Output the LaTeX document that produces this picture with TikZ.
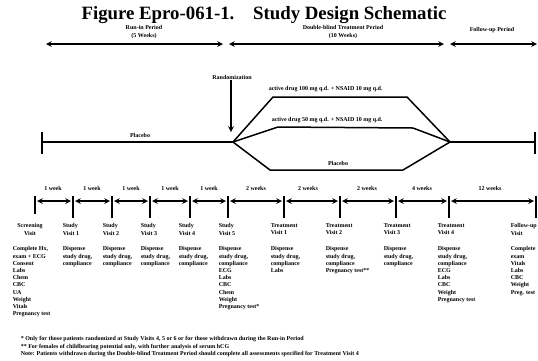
\documentclass[tikz,border=0pt]{standalone}
\usepackage{fontspec}
\setmainfont{Liberation Serif}

\tikzset{
  small/.style={font=\fontsize{6}{7.2}\selectfont\bfseries, inner sep=0pt},
  visit/.style={small, align=left, anchor=north west},
  period/.style={small, align=center},
}

\begin{document}
\begin{tikzpicture}[x=1pt, y=-1pt, line width=1.5pt]
  \useasboundingbox (0,0) rectangle (538,360);

    \node [inner sep=0pt, font=\fontsize{18.8}{20}\selectfont\bfseries] (title) at (264,15) {Figure Epro-061-1.\quad Study Design Schematic};

    %periods
    \node [period] (runin) at (144,32) {Run-in Period\\(5 Weeks)};
    \node [period] (dbt) at (343,32) {Double-blind Treatment Period\\(10 Weeks)};
    \node [period] (fup) at (492,30) {Follow-up Period};
    \coordinate (p0) at (46,44);
    \coordinate (p1) at (223,44);
    \coordinate (p2) at (229,44);
    \coordinate (p3) at (444,44);
    \coordinate (p4) at (450,44);
    \coordinate (p5) at (537,44);
    \draw [stealth-stealth] (p0) -- (p1);
    \draw [stealth-stealth] (p2) -- (p3);
    \draw [stealth-stealth] (p4) -- (p5);

    %randomization
    \node [small] (rand) at (232,77) {Randomization};
    \coordinate (randtip) at (231,132);
    \draw [-stealth] (rand.south -| randtip) -- (randtip);

    %placebo run-in
    \coordinate (start) at (42,142);
    \coordinate (branch) at (233,142);
    \coordinate (join) at (450,142);
    \coordinate (stop) at (535,142);
    \draw (start) -- (branch);
    \draw ([yshift=10pt]start) -- ([yshift=-12pt]start);
    \node [small] (pbo) at (140,135) {Placebo};

    %arms
    \coordinate (a1) at (273,97);
    \coordinate (a2) at (407,97);
    \coordinate (b1) at (278,127);
    \coordinate (b2) at (413,128);
    \coordinate (c1) at (270,170);
    \coordinate (c2) at (403,170);
    \draw (branch) -- (a1) -- (a2) -- (join);
    \draw (branch) -- (b1) -- (b2) -- (join);
    \draw (branch) -- (c1) -- (c2) -- (join);
    \draw (join) -- (stop);
    \draw ([yshift=10pt]stop) -- ([yshift=-12pt]stop);
    \node [small, anchor=west] (arm1) at (268,89) {active drug 100 mg q.d. + NSAID 10 mg q.d.};
    \node [small, anchor=west] (arm2) at (271,120) {active drug 50 mg q.d. + NSAID 10 mg q.d.};
    \node [small] (arm3) at (338,163) {Placebo};

    %timeline
    \coordinate (t1) at (35,201);
    \coordinate (t2) at (73,201);
    \coordinate (t3) at (112,201);
    \coordinate (t4) at (150,201);
    \coordinate (t5) at (190,201);
    \coordinate (t6) at (228,201);
    \coordinate (t7) at (284,201);
    \coordinate (t8) at (340,201);
    \coordinate (t9) at (396,201);
    \coordinate (t10) at (449,201);
    \coordinate (t11) at (536,201);
    \draw [stealth-stealth, shorten <=2pt, shorten >=2pt] (t1) -- (t2);
    \draw [stealth-stealth, shorten <=2pt, shorten >=2pt] (t2) -- (t3);
    \draw [stealth-stealth, shorten <=2pt, shorten >=2pt] (t3) -- (t4);
    \draw [stealth-stealth, shorten <=2pt, shorten >=2pt] (t4) -- (t5);
    \draw [stealth-stealth, shorten <=2pt, shorten >=2pt] (t5) -- (t6);
    \draw [stealth-stealth, shorten <=2pt, shorten >=2pt] (t6) -- (t7);
    \draw [stealth-stealth, shorten <=2pt, shorten >=2pt] (t7) -- (t8);
    \draw [stealth-stealth, shorten <=2pt, shorten >=2pt] (t8) -- (t9);
    \draw [stealth-stealth, shorten <=2pt, shorten >=2pt] (t9) -- (t10);
    \draw [stealth-stealth, shorten <=2pt, shorten >=2pt] (t10) -- (t11);
    \draw ([yshift=5pt]t1) -- ([yshift=-13pt]t1);
    \draw ([yshift=5pt]t2) -- ([yshift=-17pt]t2);
    \draw ([yshift=5pt]t3) -- ([yshift=-17pt]t3);
    \draw ([yshift=5pt]t4) -- ([yshift=-17pt]t4);
    \draw ([yshift=5pt]t5) -- ([yshift=-17pt]t5);
    \draw ([yshift=5pt]t6) -- ([yshift=-17pt]t6);
    \draw ([yshift=5pt]t7) -- ([yshift=-17pt]t7);
    \draw ([yshift=5pt]t8) -- ([yshift=-17pt]t8);
    \draw ([yshift=5pt]t9) -- ([yshift=-17pt]t9);
    \draw ([yshift=5pt]t10) -- ([yshift=-17pt]t10);
    \draw ([yshift=5pt]t11) -- ([yshift=-17pt]t11);
    \node [small] (w1) at (53,188) {1 week};
    \node [small] (w2) at (92,188) {1 week};
    \node [small] (w3) at (131,188) {1 week};
    \node [small] (w4) at (170,188) {1 week};
    \node [small] (w5) at (209,188) {1 week};
    \node [small] (w6) at (256,188) {2 weeks};
    \node [small] (w7) at (308,188) {2 weeks};
    \node [small] (w8) at (367,188) {2 weeks};
    \node [small] (w9) at (422,188) {4 weeks};
    \node [small] (w10) at (490,188) {12 weeks};

    %visits
    \node [small, align=center, anchor=north] (v1) at (30,223) {Screening\\Visit};
    \node [visit] (v2) at (62,223) {Study\\Visit 1};
    \node [visit] (v3) at (102,223) {Study\\Visit 2};
    \node [visit] (v4) at (140,223) {Study\\Visit 3};
    \node [visit] (v5) at (178,223) {Study\\Visit 4};
    \node [visit] (v6) at (218,223) {Study\\Visit 5};
    \node [visit] (v7) at (270,223) {Treatment\\Visit 1};
    \node [visit] (v8) at (325,223) {Treatment\\Visit 2};
    \node [visit] (v9) at (383,223) {Treatment\\Visit 3};
    \node [visit] (v10) at (437,223) {Treatment\\Visit 4};
    \node [visit] (v11) at (510,223) {Follow-up\\Visit};

    %visit procedures
    \node [visit] (d1) at (12,246) {Complete Hx,\\exam + ECG\\Consent\\Labs\\Chem\\CBC\\UA\\Weight\\Vitals\\Pregnancy test};
    \node [visit] (d2) at (62,246) {Dispense\\study drug,\\compliance};
    \node [visit] (d3) at (102,246) {Dispense\\study drug,\\compliance};
    \node [visit] (d4) at (140,246) {Dispense\\study drug,\\compliance};
    \node [visit] (d5) at (178,246) {Dispense\\study drug,\\compliance};
    \node [visit] (d6) at (218,246) {Dispense\\study drug,\\compliance\\ECG\\Labs\\CBC\\Chem\\Weight\\Pregnancy test*};
    \node [visit] (d7) at (270,246) {Dispense\\study drug,\\compliance\\Labs};
    \node [visit] (d8) at (325,246) {Dispense\\study drug,\\compliance\\Pregnancy test**};
    \node [visit] (d9) at (383,246) {Dispense\\study drug,\\compliance};
    \node [visit] (d10) at (437,246) {Dispense\\study drug,\\compliance\\ECG\\Labs\\CBC\\Weight\\Pregnancy test};
    \node [visit] (d11) at (510,246) {Complete\\exam\\Vitals\\Labs\\CBC\\Weight\\Preg. test};

    %footnotes
    \node [visit] (notes) at (20,336) {* Only for those patients randomized at Study Visits 4, 5 or 6 or for those withdrawn during the Run-in Period\\
      ** For females of childbearing potential only, with further analysis of serum hCG\\
      Note: Patients withdrawn during the Double-blind Treatment Period should complete all assessments specified for Treatment Visit 4};
 \end{tikzpicture}
\end{document}
